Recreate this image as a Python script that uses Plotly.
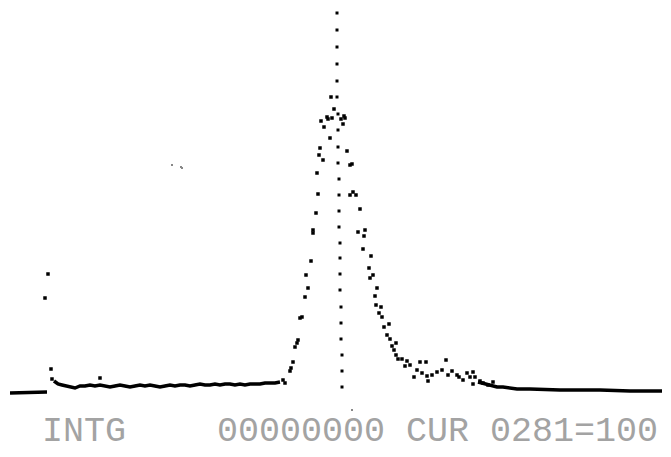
import plotly.graph_objects as go

# Display rows are read from the screen (0 = top row, 457 = bottom row), x = screen column / channel
# Dense baseline (left of peak)
base_left_x = [10, 47]
base_left_y = [393, 392]

base_x = [54, 58, 62, 66, 70, 75, 80, 85, 90, 95, 100, 105, 110, 115, 120, 125, 130, 135, 140, 145,
          150, 155, 160, 165, 170, 175, 180, 185, 190, 195, 200, 205, 210, 215, 220, 225, 230, 235,
          240, 245, 250, 255, 260, 265, 270, 275, 280]
base_y = [381, 384, 385, 386, 387, 388, 386, 386, 385, 386, 385, 386, 387, 386, 385, 386, 387, 386,
          385, 386, 385, 386, 387, 386, 385, 386, 385, 385, 386, 385, 384, 385, 385, 384, 385, 384,
          384, 385, 384, 385, 384, 384, 384, 383, 383, 383, 382]

# Dense baseline (right tail)
tail_x = [478, 485, 490, 497, 503, 510, 517, 530, 560, 600, 630, 662]
tail_y = [382, 384, 385, 387, 387, 388, 389, 389, 390, 390, 391, 391]

# Individual spectrum dots
dots_x = [48, 45, 51, 52, 100,
          283, 285, 290, 291, 293, 295, 297, 298, 300, 302, 305, 306, 308, 311, 313, 313, 316, 318,
          317, 319, 320, 323, 321, 324, 327, 328, 330, 331, 332, 334,
          341, 343, 344, 345, 347, 350, 352, 350, 353, 356, 360, 358, 365, 364, 363, 371, 369, 373,
          370, 377, 375, 376, 381, 379, 382, 384, 389, 387, 390, 396, 392, 394, 396, 398, 402, 407,
          405, 410, 420, 426, 417, 422, 414, 427, 432, 437, 442, 428, 446, 448, 452, 457, 459, 463,
          467, 473, 470, 475, 473, 480, 483, 488, 493]
dots_y = [274, 298, 369, 379, 378,
          380, 383, 371, 368, 362, 347, 343, 340, 318, 317, 297, 275, 288, 261, 230, 233, 213, 194,
          173, 155, 148, 160, 121, 127, 117, 119, 138, 97, 118, 109,
          119, 124, 116, 118, 151, 165, 164, 195, 192, 195, 209, 232, 230, 236, 249, 256, 268, 275,
          278, 288, 296, 305, 307, 313, 317, 327, 324, 335, 339, 343, 346, 350, 355, 359, 359, 361,
          366, 365, 362, 362, 370, 373, 377, 376, 375, 372, 370, 381, 360, 375, 371, 375, 377, 380,
          373, 372, 377, 377, 384, 381, 383, 385, 382]

# Faint specks
speck_x = [172, 181, 182, 352]
speck_y = [165, 167, 168, 410]

# Cursor (dotted vertical marker)
cursor_x = [337, 337, 337, 337, 337, 337, 338, 338, 338, 338, 339, 339, 339, 339, 340, 340, 340,
            340, 341, 341, 341, 342, 342, 342]
cursor_y = [13, 30, 47, 64, 81, 97, 114, 130, 147, 163, 179, 195, 211, 227, 243, 258, 274, 290,
            307, 323, 339, 355, 371, 387]

label_left = "INTG"
label_right = "00000000 CUR 0281=100"

fig = go.Figure()
for xs, ys in [(base_left_x, base_left_y), (base_x, base_y), (tail_x, tail_y)]:
    fig.add_trace(go.Scatter(x=xs, y=ys, mode="lines",
                             line=dict(color="black", width=3.5), hoverinfo="skip"))
fig.add_trace(go.Scatter(x=dots_x, y=dots_y, mode="markers",
                         marker=dict(color="black", size=3.5, symbol="square"), hoverinfo="skip"))
fig.add_trace(go.Scatter(x=speck_x, y=speck_y, mode="markers",
                         marker=dict(color="#888888", size=2, symbol="square"), hoverinfo="skip"))
fig.add_trace(go.Scatter(x=cursor_x, y=cursor_y, mode="markers",
                         marker=dict(color="black", size=3, symbol="square"), hoverinfo="skip"))

text_font = dict(family="Liberation Mono", size=35, color="#a3a3a3")
fig.add_annotation(text=label_left, xref="paper", yref="paper", x=40 / 671, y=1 - 432 / 457,
                   xanchor="left", yanchor="middle", showarrow=False, font=text_font)
fig.add_annotation(text=label_right, xref="paper", yref="paper", x=215 / 671, y=1 - 432 / 457,
                   xanchor="left", yanchor="middle", showarrow=False, font=text_font)

fig.update_layout(
    width=671, height=457, margin=dict(l=0, r=0, t=0, b=0),
    paper_bgcolor="white", plot_bgcolor="white", showlegend=False,
    xaxis=dict(range=[0, 671], visible=False, fixedrange=True),
    yaxis=dict(range=[457, 0], visible=False, fixedrange=True),
)
fig.write_html("out.html")
